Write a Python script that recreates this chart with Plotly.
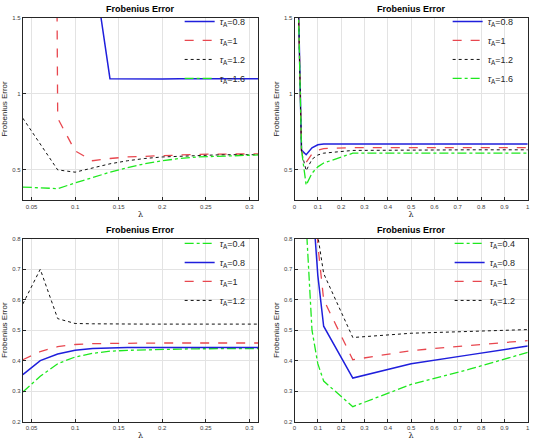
import plotly.graph_objects as go

# ---------------- data ----------------
# top-left (lambda 0.04 .. 0.32, step 0.02)
lam_a = [0.04, 0.06, 0.08, 0.10, 0.12, 0.14, 0.16, 0.18, 0.20, 0.22, 0.24, 0.26, 0.28, 0.30, 0.32]
tl_08 = [3.0, 2.8, 2.6, 2.3, 1.88, 1.10, 1.098, 1.095, 1.097, 1.099, 1.10, 1.10, 1.10, 1.10, 1.10]
tl_10 = [20.0, 20.0, 0.84, 0.625, 0.56, 0.575, 0.585, 0.59, 0.595, 0.60, 0.602, 0.604, 0.605, 0.605, 0.605]
tl_12 = [0.84, 0.67, 0.50, 0.485, 0.515, 0.54, 0.56, 0.575, 0.585, 0.59, 0.595, 0.598, 0.60, 0.60, 0.60]
tl_16 = [0.387, 0.383, 0.377, 0.414, 0.45, 0.485, 0.515, 0.54, 0.56, 0.575, 0.585, 0.59, 0.595, 0.598, 0.60]

# top-right (lambda 0.01 .. 1)
lam_b = [0.01, 0.03, 0.05, 0.075, 0.1, 0.125, 0.25, 0.5, 0.75, 1.0]
tr_08 = [2.10, 0.63, 0.60, 0.645, 0.665, 0.670, 0.671, 0.671, 0.671, 0.671]
tr_10 = [2.08, 0.625, 0.55, 0.605, 0.63, 0.640, 0.647, 0.647, 0.647, 0.647]
tr_12 = [2.06, 0.62, 0.495, 0.57, 0.598, 0.610, 0.628, 0.632, 0.632, 0.632]
tr_16 = [2.04, 0.63, 0.40, 0.478, 0.52, 0.545, 0.610, 0.610, 0.610, 0.610]

# bottom-left (lambda 0.04 .. 0.32)
bl_04 = [0.297, 0.349, 0.390, 0.412, 0.424, 0.431, 0.434, 0.436, 0.437, 0.438, 0.439, 0.44, 0.44, 0.44, 0.44]
bl_08 = [0.354, 0.40, 0.422, 0.434, 0.44, 0.442, 0.443, 0.443, 0.443, 0.443, 0.443, 0.443, 0.443, 0.443, 0.443]
bl_10 = [0.403, 0.43, 0.446, 0.453, 0.456, 0.457, 0.458, 0.458, 0.458, 0.458, 0.458, 0.458, 0.458, 0.458, 0.458]
bl_12 = [0.586, 0.70, 0.538, 0.522, 0.521, 0.52, 0.52, 0.52, 0.52, 0.52, 0.52, 0.52, 0.52, 0.52, 0.52]

# bottom-right (lambda 0.025 .. 1)
lam_d = [0.025, 0.05, 0.075, 0.1, 0.125, 0.25, 0.5, 0.75, 1.0]
br_04 = [1.40, 0.85, 0.50, 0.39, 0.333, 0.249, 0.322, 0.372, 0.427]
br_08 = [1.60, 1.30, 0.95, 0.68, 0.513, 0.343, 0.390, 0.419, 0.448]
br_10 = [1.70, 1.45, 1.20, 0.78, 0.600, 0.403, 0.433, 0.450, 0.466]
br_12 = [1.80, 1.55, 1.30, 0.81, 0.686, 0.476, 0.490, 0.496, 0.502]

# ---------------- styles ----------------
BLUE = "#1f1fdc"
RED = "#e8474f"
BLACK = "#111111"
GREEN = "#1ee81e"
sty = {
    "0.4": dict(color=GREEN, dash="dashdot", width=1.3),
    "0.8": dict(color=BLUE, dash="solid", width=1.5),
    "1": dict(color=RED, dash="dash", width=1.3),
    "1.2": dict(color=BLACK, dash="dot", width=1.0),
    "1.6": dict(color=GREEN, dash="dashdot", width=1.3),
}

W, H = 536, 447


def dom_x(a, b):
    return [a / W, b / W]


def dom_y(top, bottom):
    return [1 - bottom / H, 1 - top / H]


panels = [
    ("", dom_x(21, 258), dom_y(15, 200), [0.04, 0.31], [0.3, 1.5],
     [0.05, 0.1, 0.15, 0.2, 0.25, 0.3], [0.5, 1, 1.5], lam_a,
     [("0.8", tl_08), ("1", tl_10), ("1.2", tl_12), ("1.6", tl_16)], "legend", (179, 4)),
    ("2", dom_x(294.7, 529.7), dom_y(15, 200), [0, 1], [0.3, 1.5],
     [round(0.1 * i, 1) for i in range(11)], [0.5, 1, 1.5], lam_b,
     [("0.8", tr_08), ("1", tr_10), ("1.2", tr_12), ("1.6", tr_16)], "legend2", (449, 4)),
    ("3", dom_x(21, 258), dom_y(239, 424.3), [0.04, 0.31], [0.2, 0.8],
     [0.05, 0.1, 0.15, 0.2, 0.25, 0.3], [0.2, 0.3, 0.4, 0.5, 0.6, 0.7, 0.8], lam_a,
     [("0.4", bl_04), ("0.8", bl_08), ("1", bl_10), ("1.2", bl_12)], "legend3", (179, 229)),
    ("4", dom_x(294.7, 529.7), dom_y(239, 424.3), [0, 1], [0.2, 0.8],
     [round(0.1 * i, 1) for i in range(11)], [0.2, 0.3, 0.4, 0.5, 0.6, 0.7, 0.8], lam_d,
     [("0.4", br_04), ("0.8", br_08), ("1", br_10), ("1.2", br_12)], "legend4", (451, 229)),
]

fig = go.Figure()
layout = dict(
    width=W, height=H, margin=dict(l=0, r=0, t=0, b=0),
    paper_bgcolor="white", plot_bgcolor="white",
    font=dict(family="Liberation Sans, Arial, sans-serif", color="#262626"),
    showlegend=True, annotations=[],
)

tick_font = dict(size=6, color="#404040", family="Liberation Sans, Arial, sans-serif")

for suf, xd, yd, xr, yr, xt, yt, lam, series, lg, lpos in panels:
    xa = "x" + suf
    ya = "y" + suf
    for name, vals in series:
        fig.add_trace(go.Scatter(
            x=lam, y=vals, mode="lines", xaxis=xa, yaxis=ya,
            name="<i>τ</i><sub>A</sub>=" + name,
            line=sty[name], legend=lg,
        ))
    common = dict(
        showline=True, linecolor="#262626", linewidth=1, mirror=True,
        showgrid=True, gridcolor="#e3e3e3", gridwidth=1,
        ticks="inside", ticklen=3, tickcolor="#262626", tickwidth=0.8,
        tickfont=tick_font, zeroline=False,
    )
    layout["xaxis" + suf] = dict(
        domain=xd, range=xr, tickvals=xt, ticktext=[f"{v:g}" for v in xt],
        anchor=ya, title=dict(text="λ", font=dict(size=8, family="DejaVu Serif, serif", color="#262626"), standoff=2),
        **common,
    )
    layout["yaxis" + suf] = dict(
        domain=yd, range=yr, tickvals=yt, ticktext=[f"{v:g}" for v in yt],
        anchor=xa, title=dict(text="Frobenius Error", font=dict(size=8, color="#262626"), standoff=3),
        **common,
    )
    layout[lg] = dict(
        x=lpos[0] / W, y=1 - lpos[1] / H, xanchor="left", yanchor="top",
        bgcolor="rgba(0,0,0,0)", borderwidth=0,
        font=dict(size=9, color="#262626"), itemwidth=30, tracegroupgap=0,
    )
    layout["annotations"].append(dict(
        text="<b>Frobenius Error</b>", xref="paper", yref="paper",
        x=(xd[0] + xd[1]) / 2, y=yd[1], yshift=2, xanchor="center", yanchor="bottom",
        showarrow=False, font=dict(size=9, color="#000000"),
    ))

fig.update_layout(**layout)
fig.write_html("out.html")
